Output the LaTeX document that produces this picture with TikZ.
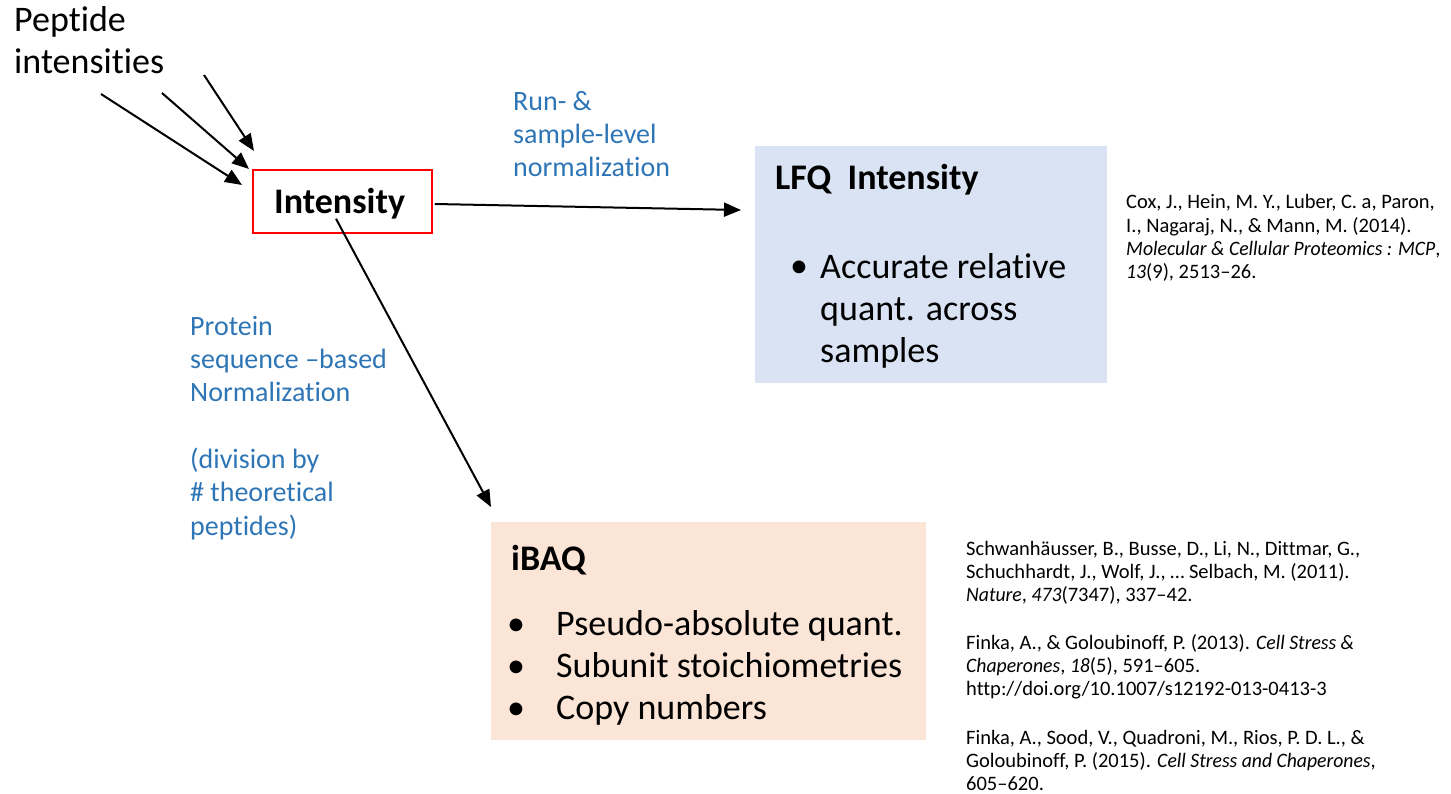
\documentclass[tikz,border=0pt]{standalone}
\usepackage{fontspec}
\setmainfont{Carlito}[Ligatures={TeX,NoCommon}, ItalicFeatures={FakeStretch=0.96}]
\usetikzlibrary{arrows.meta}
\definecolor{labelblue}{HTML}{2E75B6}
\definecolor{lfqfill}{HTML}{DAE3F3}
\definecolor{ibaqfill}{HTML}{FBE5D6}
\definecolor{boxred}{HTML}{FF0000}
\tikzset{
  arr/.style={line width=2pt, -{Triangle[length=17pt,width=14pt]}},
  bigtext/.style={anchor=base west, inner sep=0pt, align=left, font=\fontsize{36}{42}\selectfont},
  bigbold/.style={bigtext, font=\fontsize{36}{42}\selectfont\bfseries},
  bluelabel/.style={anchor=base west, inner sep=0pt, align=left, text=labelblue, font=\fontsize{28}{33.3}\selectfont},
  cite/.style={anchor=base west, inner sep=0pt, align=left, font=\fontsize{20.5}{23.2}\selectfont},
  panel/.style={anchor=north west, inner sep=0pt, draw=none},
}
\begin{document}
\begin{tikzpicture}[x=1pt,y=-1pt]
\useasboundingbox (0,0) rectangle (1451,794);

% source label (multi-line nodes sit on the baseline of their last line)
\node[bigtext] (pep) at (14,74) {Peptide\\intensities};

% central intensity box and its label
\node[draw=boxred, line width=1.5pt, minimum width=179pt, minimum height=63pt, inner sep=0pt] (int) at (342.5,201.5) {};
\node[bigbold] (inttext) at (274,214) {Intensity};

% result panels
\node[panel, fill=lfqfill, minimum width=352pt, minimum height=237pt] (lfq) at (755,146) {};
\node[panel, fill=ibaqfill, minimum width=435pt, minimum height=218pt] (ibaq) at (491,522) {};

\node[bigbold] (lfqtitle) at (775,190) {LFQ\ \ Intensity};
\node[bigtext] (lfqbul) at (790,278) {•};
\node[bigtext] (lfqtext) at (820,362) {Accurate relative\\quant. across\\samples};

\node[bigbold] (ibaqtitle) at (511,570) {iBAQ};
\node[bigtext] (ibaqbul) at (507,719) {•\\•\\•};
\node[bigtext] (ibaqtext) at (556,719) {Pseudo-absolute quant.\\Subunit stoichiometries\\Copy numbers};

% arrow labels
\node[bluelabel] (runlbl) at (513,177) {Run- \&\\sample-level\\normalization};
\node[bluelabel] (seqlbl) at (190,535) {Protein\\sequence –based\\Normalization\\ \\(division by\\\# theoretical\\peptides)};

% references
\node[cite] (coxref) at (1126,278.5) {Cox, J., Hein, M. Y., Luber, C. a, Paron,\\I., Nagaraj, N., \& Mann, M. (2014).\\\textit{Molecular \& Cellular Proteomics : MCP},\\\textit{13}(9), 2513–26.};
\node[cite] (schref) at (966,601.5) {Schwanhäusser, B., Busse, D., Li, N., Dittmar, G.,\\Schuchhardt, J., Wolf, J., … Selbach, M. (2011).\\\textit{Nature}, \textit{473}(7347), 337–42.};
\node[cite] (fin1ref) at (966,695.5) {Finka, A., \& Goloubinoff, P. (2013). \textit{Cell Stress \&}\\\textit{Chaperones}, \textit{18}(5), 591–605.\\http://doi.org/10.1007/s12192-013-0413-3};
\node[cite] (fin2ref) at (966,790.5) {Finka, A., Sood, V., Quadroni, M., Rios, P. D. L., \&\\Goloubinoff, P. (2015). \textit{Cell Stress and Chaperones},\\605–620.};

% connector end points
\coordinate (p1s) at (101,94);
\coordinate (p1e) at (242,185);
\coordinate (p2s) at (162,93);
\coordinate (p2e) at (249,169);
\coordinate (p3s) at (204,75);
\coordinate (p3e) at (254,151);
\coordinate (lfqin) at (741,210);
\coordinate (ibaqin) at (491,507);

\draw[arr] (p1s) -- (p1e);
\draw[arr] (p2s) -- (p2e);
\draw[arr] (p3s) -- (p3e);
\draw[arr] ([xshift=2pt,yshift=-2.5pt]int.east) -- (lfqin);
\draw[arr] ([xshift=-6.5pt,yshift=15pt]int.south) -- (ibaqin);
\end{tikzpicture}
\end{document}
